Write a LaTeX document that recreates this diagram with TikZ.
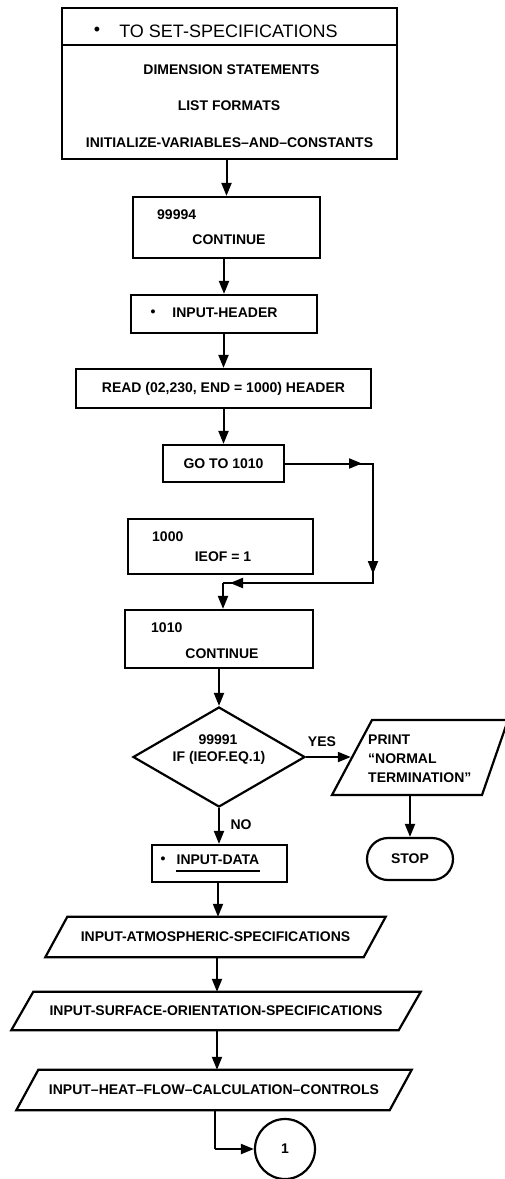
\documentclass[tikz,border=0pt]{standalone}
\usepackage{fontspec}
\newfontfamily\lblfam{Liberation Sans}
\usetikzlibrary{arrows.meta,shapes.geometric,calc}
\newcommand\lb{\lblfam\bfseries\fontsize{14}{19}\selectfont}
\newcommand\hd{\lblfam\fontsize{18}{20}\selectfont}
\newcommand\paral[2]{\draw[line width=2.2pt] ($(#1.north west)+(#2,0)$) -- ($(#1.north east)+(#2,0)$) -- ($(#1.south east)+(-#2,0)$) -- ($(#1.south west)+(-#2,0)$) -- cycle;}
\begin{document}
\begin{tikzpicture}[x=1pt,y=-1pt,
  box/.style={draw, line width=2.2pt, inner sep=0pt, font=\lb},
  txt/.style={inner sep=0pt, font=\lb},
  arr/.style={line width=2pt, -{Triangle[length=13pt,width=10pt]}},
  ln/.style={line width=2pt}]
\useasboundingbox (0,0) rectangle (505,1179);
% top box
\node[box, minimum width=335, minimum height=151] (top) at (229.5,83.5) {};
\coordinate (dl) at ($(top.north west)+(0,38)$);
\coordinate (dr) at ($(top.north east)+(0,38)$);
\draw[line width=2.2pt] (dl) -- (dr);
\node[inner sep=0pt, font=\hd] (tbul) at (97,31) {•};
\node[inner sep=0pt, font=\hd] (ttl) at (228.5,31) {TO SET-SPECIFICATIONS};
\node[txt] (t1) at (231.5,70) {DIMENSION STATEMENTS};
\node[txt] (t2) at (229,106) {LIST FORMATS};
\node[txt] (t3) at (229.5,143) {INITIALIZE-VARIABLES–AND–CONSTANTS};
% 99994
\node[box, minimum width=187, minimum height=61] (b1) at (226.5,227.5) {};
\node[txt, anchor=west] (b1a) at (157,215) {99994};
\node[txt] (b1b) at (229,240) {CONTINUE};
% input header
\node[box, minimum width=186, minimum height=38] (hdr) at (224,314) {};
\node[txt] (hbul) at (153,313) {•};
\node[txt] (htx) at (225,313) {INPUT-HEADER};
% read
\node[box, minimum width=295, minimum height=39] (rd) at (223.5,388.5) {READ (02,230, END = 1000) HEADER};
% goto
\node[box, minimum width=121, minimum height=37] (goto) at (223.5,463.5) {GO TO 1010};
% 1000
\node[box, minimum width=185, minimum height=55] (b2) at (220.5,546.5) {};
\node[txt, anchor=west] (b2a) at (152,537) {1000};
\node[txt] (b2b) at (223,557) {IEOF = 1};
% 1010
\node[box, minimum width=188, minimum height=58] (b3) at (219,639) {};
\node[txt, anchor=west] (b3a) at (151,628) {1010};
\node[txt] (b3b) at (222,654) {CONTINUE};
% decision
\node[box, diamond, minimum width=172, minimum height=100] (dec) at (219,757) {};
\node[txt] (d1) at (218,740) {99991};
\node[txt] (d2) at (219,758) {IF (IEOF.EQ.1)};
% print
\node[inner sep=0pt, minimum width=132, minimum height=75] (print) at (417,757) {};
\coordinate (ptl) at (372,720);
\coordinate (ptr) at (508,720);
\coordinate (pbr) at (482,795);
\coordinate (pbl) at (332,795);
\draw[line width=2.2pt] (ptl) -- (ptr) -- (pbr) -- (pbl) -- cycle;
\node[txt, anchor=west, align=left] (ptx) at (368,759) {PRINT\\“NORMAL\\TERMINATION”};
% stop
\node[box, rounded corners=21, minimum width=86, minimum height=42] (stop) at (410,859) {STOP};
% input data
\node[box, minimum width=135, minimum height=37] (data) at (219.5,863.5) {};
\node[txt] (dbul) at (163,860) {•};
\node[txt] (dtx) at (218,860) {INPUT-DATA};
\draw[line width=2pt] ($(dtx.south west)+(0,6)$) -- ($(dtx.south east)+(0,6)$);
% parallelograms
\node[txt, minimum width=318, minimum height=40] (atm) at (215.5,937) {INPUT-ATMOSPHERIC-SPECIFICATIONS};
\paral{atm}{11}
\node[txt, minimum width=387, minimum height=38] (srf) at (216,1011) {INPUT-SURFACE-ORIENTATION-SPECIFICATIONS};
\paral{srf}{11}
\node[txt, minimum width=373, minimum height=40] (heat) at (214,1090) {INPUT–HEAT–FLOW–CALCULATION–CONTROLS};
\paral{heat}{11}
% connector circle
\node[box, circle, minimum size=60] (con) at (285,1149) {1};
% connectors
\draw[arr] (top.south -| b1.north) -- (b1.north);
\draw[arr] (b1.south -| hdr.north) -- (hdr.north);
\draw[arr] (hdr.south -| rd.north) -- (rd.north);
\draw[arr] (rd.south -| goto.north) -- (goto.north);
\coordinate (r1) at (373,463.5);
\coordinate (r2) at (373,583);
\coordinate (jn) at (223,583);
\coordinate (m1) at (362,463.5);
\coordinate (m2) at (373,574);
\coordinate (m3) at (230,583);
\draw[ln] (goto.east) -- (r1) -- (r2) -- (jn);
\draw[arr] (goto.east) -- (m1);
\draw[arr] (r1) -- (m2);
\draw[arr] (r2) -- (m3);
\draw[arr] (jn) -- (jn |- b3.north);
\draw[arr] (b3.south -| dec.north) -- (dec.north);
\draw[arr] (dec.east) -- (print.west);
\node[txt] (yes) at (322,742) {YES};
\draw[arr] (dec.south) -- (dec.south |- data.north);
\node[txt] (no) at (241,825) {NO};
\draw[arr] (stop.north |- pbl) -- (stop.north);
\draw[arr] (data.south -| 218,0) -- (atm.north -| 218,0);
\draw[arr] (atm.south -| 217,0) -- (srf.north -| 217,0);
\draw[arr] (srf.south -| 217,0) -- (heat.north -| 217,0);
\coordinate (hc) at (215,1149);
\draw[ln] (heat.south -| hc) -- (hc);
\draw[arr] (hc) -- (con.west);
\end{tikzpicture}
\end{document}
